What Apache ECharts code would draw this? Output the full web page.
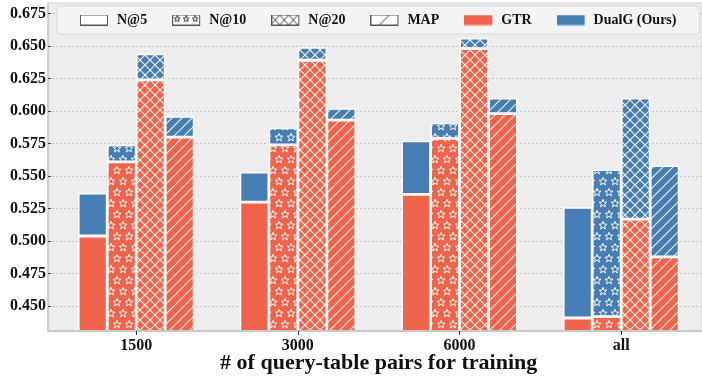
<!DOCTYPE html>
<html><head><meta charset="utf-8">
<script src="https://cdn.jsdelivr.net/npm/echarts@6/dist/echarts.min.js"></script>
<style>html,body{margin:0;padding:0;background:#fff}#chart{width:702px;height:381px}</style>
</head><body><div id="chart"></div>
<script>
// ---- data ----
const categories = ['1500', '3000', '6000', 'all'];
const metrics = ['N@5', 'N@10', 'N@20', 'MAP'];
const gtrN5   = [0.504, 0.530, 0.536, 0.441];
const gtrN10  = [0.561, 0.574, 0.579, 0.442];
const gtrN20  = [0.624, 0.639, 0.648, 0.517];
const gtrMAP  = [0.580, 0.593, 0.598, 0.488];
const dualN5  = [0.537, 0.553, 0.577, 0.526];
const dualN10 = [0.574, 0.587, 0.591, 0.555];
const dualN20 = [0.644, 0.649, 0.656, 0.610];
const dualMAP = [0.596, 0.602, 0.610, 0.558];
const yTicks = [0.450, 0.475, 0.500, 0.525, 0.550, 0.575, 0.600, 0.625, 0.650, 0.675];
const legendNames = ['N@5', 'N@10', 'N@20', 'MAP', 'GTR', 'DualG (Ours)'];

const gtr = {'N@5': gtrN5, 'N@10': gtrN10, 'N@20': gtrN20, 'MAP': gtrMAP};
const dual = {'N@5': dualN5, 'N@10': dualN10, 'N@20': dualN20, 'MAP': dualMAP};

const RED = '#F0644B', BLUE = '#467DB4';
const FONT = 'Liberation Serif';

function starPath(ctx, cx, cy, ro, ri) {
  ctx.beginPath();
  for (let k = 0; k < 10; k++) {
    const r = k % 2 === 0 ? ro : ri;
    const a = -Math.PI / 2 + k * Math.PI / 5;
    const x = cx + r * Math.cos(a), y = cy + r * Math.sin(a);
    if (k === 0) ctx.moveTo(x, y); else ctx.lineTo(x, y);
  }
  ctx.closePath();
  ctx.stroke();
}
function line(ctx, x1, y1, x2, y2) { ctx.beginPath(); ctx.moveTo(x1, y1); ctx.lineTo(x2, y2); ctx.stroke(); }

function makeTile(kind, bg) {
  const c = document.createElement('canvas');
  const w = kind === 'star' ? 12 : 10, h = kind === 'star' ? 22 : 10;
  c.width = w; c.height = h;
  const ctx = c.getContext('2d');
  ctx.fillStyle = bg; ctx.fillRect(0, 0, w, h);
  ctx.strokeStyle = '#F6F6F6'; ctx.lineWidth = 1.1;
  if (kind === 'slash' || kind === 'cross') {
    line(ctx, -1, 11, 11, -1); line(ctx, -1, 1, 1, -1); line(ctx, 9, 11, 11, 9);
  }
  if (kind === 'cross') {
    line(ctx, -1, -1, 11, 11); line(ctx, 9, -1, 11, 1); line(ctx, -1, 9, 1, 11);
  }
  if (kind === 'star') {
    ctx.lineWidth = 1;
    const pts = [[3, 5.5], [9, 16.5]];
    pts.forEach(p => {
      for (let dx = -12; dx <= 12; dx += 12) for (let dy = -22; dy <= 22; dy += 22)
        starPath(ctx, p[0] + dx, p[1] + dy, 4.2, 1.8);
    });
  }
  return c;
}
const kindOf = {'N@5': 'solid', 'N@10': 'star', 'N@20': 'cross', 'MAP': 'slash'};
function fillFor(m, col) {
  if (kindOf[m] === 'solid') return col;
  return {image: makeTile(kindOf[m], col), repeat: 'repeat'};
}

function legendIcon(name) {
  const c = document.createElement('canvas');
  c.width = 32; c.height = 11;
  const ctx = c.getContext('2d');
  if (name === 'GTR' || name === 'DualG (Ours)') {
    ctx.fillStyle = name === 'GTR' ? RED : BLUE;
    ctx.fillRect(0, 0.5, 28, 10);
  } else {
    ctx.fillStyle = '#fff'; ctx.fillRect(0.5, 0.5, 27, 10);
    ctx.save(); ctx.beginPath(); ctx.rect(0.5, 0.5, 27, 10); ctx.clip();
    ctx.strokeStyle = '#222'; ctx.lineWidth = 0.9;
    if (name === 'N@10') {
      [5, 14, 23].forEach(x => starPath(ctx, x, 4.5, 3.2, 1.4));
    } else if (name === 'N@20') {
      for (let x = -10; x < 40; x += 9) { line(ctx, x, 0, x + 10, 11); line(ctx, x + 10, 0, x, 11); }
    } else if (name === 'MAP') {
      line(ctx, 9, 10.5, 19, 0.5);
    }
    ctx.restore();
    ctx.strokeStyle = '#555'; ctx.lineWidth = 1;
    ctx.strokeRect(0.5, 0.5, 27, 10);
  }
  return 'image://' + c.toDataURL();
}

const series = [];
metrics.forEach(m => {
  series.push({
    type: 'bar', name: 'GTR ' + m, stack: m, xAxisIndex: 1, yAxisIndex: 1,
    barWidth: 29, barGap: '0%', silent: true,
    data: gtr[m],
    itemStyle: {color: fillFor(m, RED), borderColor: '#ffffff', borderWidth: 1.4}
  });
  series.push({
    type: 'bar', name: 'DualG ' + m, stack: m, xAxisIndex: 1, yAxisIndex: 1,
    barWidth: 29, barGap: '0%', silent: true,
    data: dual[m].map((v, i) => +(v - gtr[m][i]).toFixed(4)),
    itemStyle: {color: fillFor(m, BLUE), borderColor: '#ffffff', borderWidth: 1.4}
  });
});
legendNames.forEach(n => series.push({type: 'line', name: n, xAxisIndex: 0, yAxisIndex: 0, data: []}));

const chart = echarts.init(document.getElementById('chart'), null, {renderer: 'canvas'});
chart.setOption({
  animation: false,
  backgroundColor: '#ffffff',
  grid: [
    {left: 48, right: -10, top: 3, bottom: 50, show: true, backgroundColor: '#EDEDED', borderColor: '#D4D4D4', borderWidth: 1},
    {left: 55.35, right: -2.5, top: 3, bottom: 50}
  ],
  legend: {
    left: 57, top: 6, orient: 'horizontal',
    itemWidth: 32, itemHeight: 11, itemGap: 25,
    padding: [7, 23, 7, 23],
    backgroundColor: '#F4F4F4', borderColor: '#D9D9D9', borderWidth: 1, borderRadius: 3,
    textStyle: {fontFamily: FONT, fontWeight: 'bold', fontSize: 14, color: '#111'},
    selectedMode: false,
    data: legendNames.map(n => ({name: n, icon: legendIcon(n)}))
  },
  xAxis: [
    {gridIndex: 0, type: 'value', min: 0, max: 1, z: 5,
     axisLine: {show: true, lineStyle: {color: '#C9C9C9', width: 2}},
     axisTick: {show: false}, axisLabel: {show: false}, splitLine: {show: false}},
    {gridIndex: 1, type: 'category', data: categories, z: 6,
     axisLine: {show: false},
     axisTick: {show: true, alignWithLabel: true, length: 4, lineStyle: {color: '#333'}},
     axisLabel: {fontFamily: FONT, fontWeight: 'bold', fontSize: 16, color: '#111', margin: 7},
     name: '# of query-table pairs for training', nameLocation: 'middle', nameGap: 21,
     nameMoveOverlap: false,
     nameTextStyle: {fontFamily: FONT, fontWeight: 'bold', fontSize: 22, color: '#111'}}
  ],
  yAxis: [
    {gridIndex: 0, type: 'value', min: 0.431, max: 0.683,
     axisLine: {show: true, lineStyle: {color: '#C9C9C9', width: 1.5}},
     axisTick: {show: true, inside: true, length: 3, customValues: yTicks, lineStyle: {color: '#444'}},
     axisLabel: {customValues: yTicks, formatter: v => v.toFixed(3), fontFamily: FONT, fontWeight: 'bold', fontSize: 16, color: '#111', margin: 2},
     splitLine: {show: true, lineStyle: {color: '#C6C6C6', type: [2, 2], width: 1}}},
    {gridIndex: 1, type: 'value', min: 0.431, max: 0.683, show: false}
  ],
  series: series
});
</script></body></html>
